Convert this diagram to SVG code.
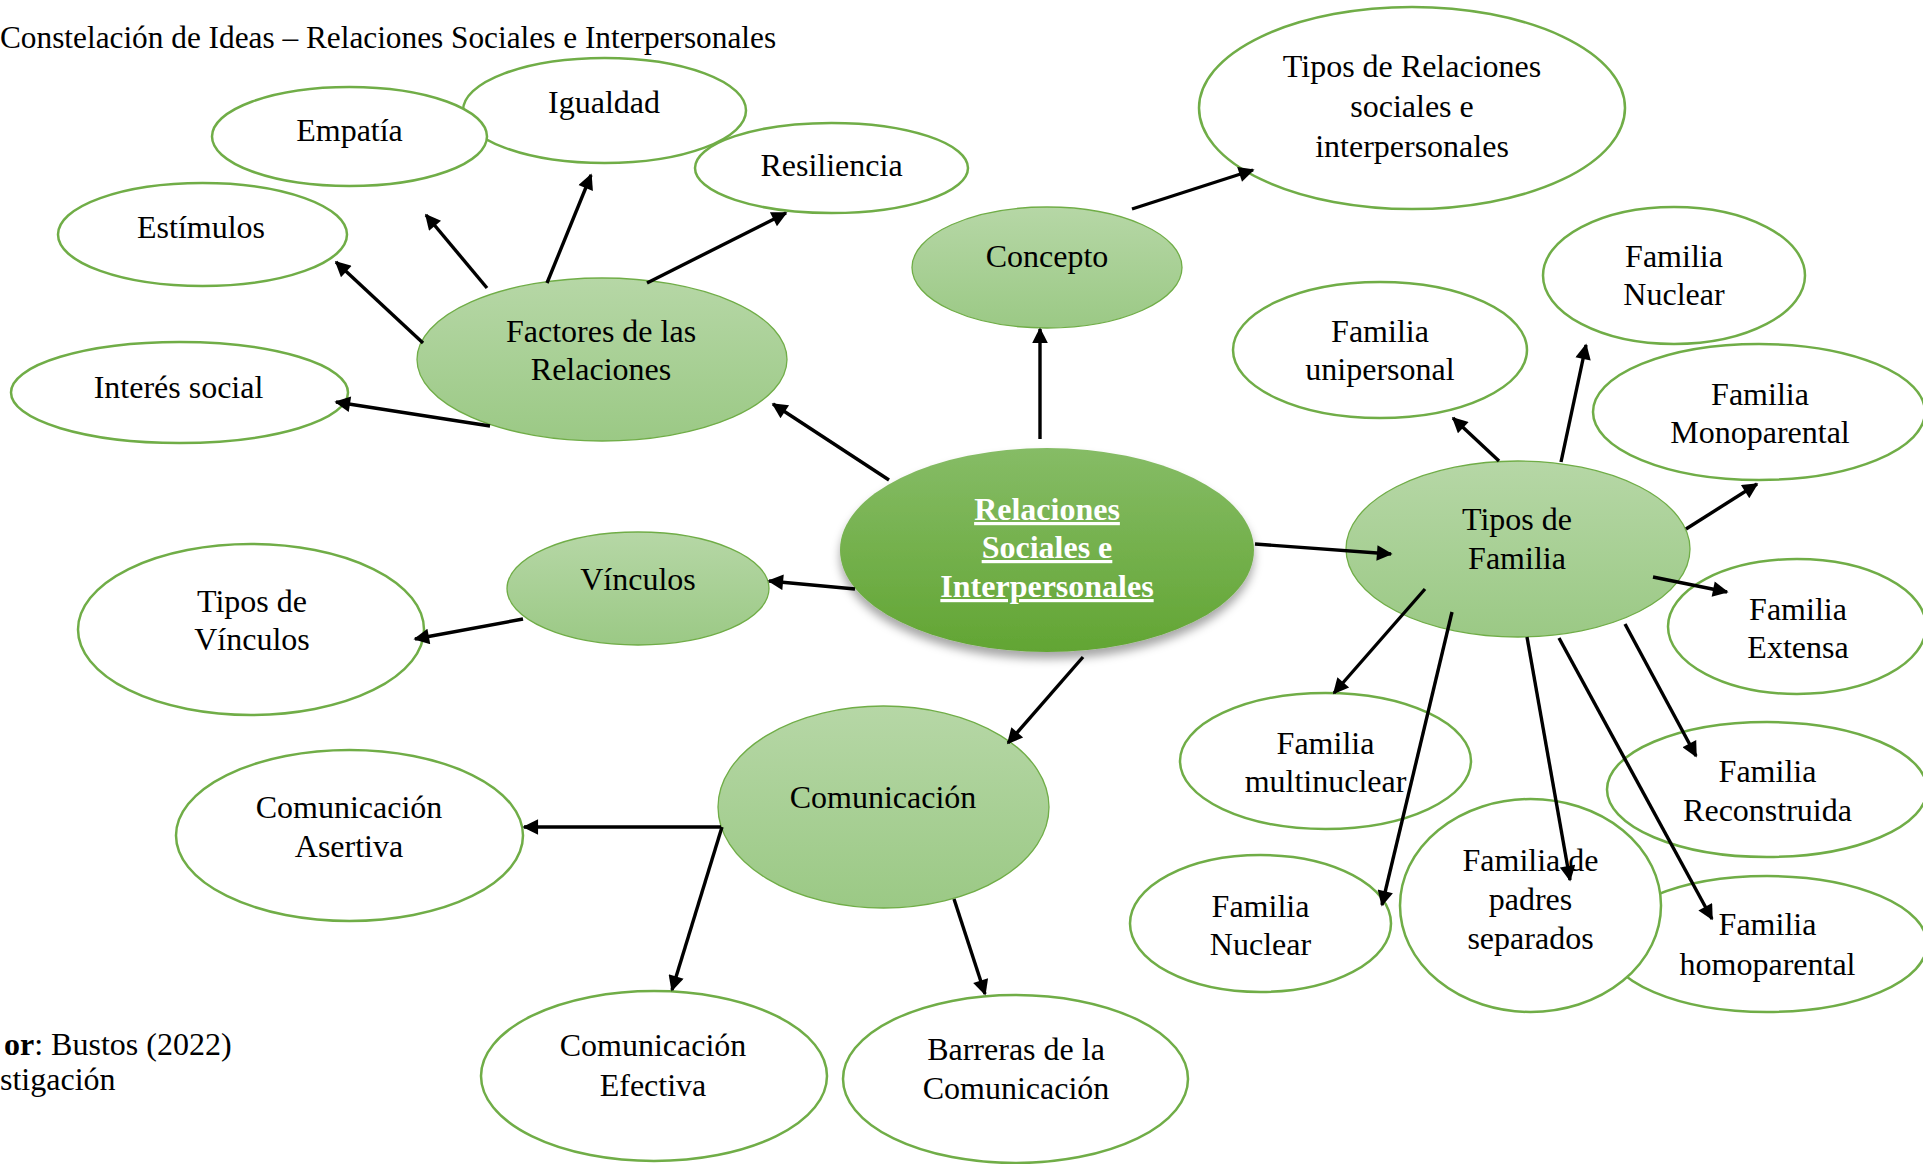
<svg xmlns="http://www.w3.org/2000/svg" width="1923" height="1164" viewBox="0 0 1923 1164">
<defs>
<linearGradient id="gLight" x1="0" y1="0" x2="0" y2="1">
<stop offset="0" stop-color="#b6d7a6"/>
<stop offset="1" stop-color="#9bc985"/>
</linearGradient>
<linearGradient id="gMain" x1="0" y1="0" x2="0" y2="1">
<stop offset="0" stop-color="#86bc66"/>
<stop offset="1" stop-color="#62a533"/>
</linearGradient>
<filter id="shadow" x="-20%" y="-20%" width="140%" height="150%">
<feDropShadow dx="0" dy="7" stdDeviation="5" flood-color="#000" flood-opacity="0.35"/>
</filter>
<marker id="arr" viewBox="0 0 10 10" refX="9" refY="5" markerWidth="5.6" markerHeight="4.6" orient="auto" markerUnits="strokeWidth">
<path d="M0,0 L10,5 L0,10 Z" fill="#000"/>
</marker>
</defs>
<style>
text{font-family:"Liberation Serif","Times New Roman",serif;font-size:32px;fill:#000;}
.c{text-anchor:middle;}
.w{fill:#fff;stroke:#70ad47;stroke-width:2.5;}
.l{fill:url(#gLight);stroke:#70ad47;stroke-width:1.3;}
.m{fill:url(#gMain);stroke:none;}
.mt{fill:#fff;font-weight:bold;text-decoration:underline;}
#connectors line{stroke:#000;stroke-width:3.4;marker-end:url(#arr);}
</style>
<rect x="0" y="0" width="1923" height="1164" fill="#fff"/>
<text x="0" y="48" style="font-size:31.3px">Constelación de Ideas – Relaciones Sociales e Interpersonales</text>
<g id="n-igualdad"><ellipse class="w" cx="604.5" cy="110.5" rx="141.5" ry="52.5"/><text class="c" x="604" y="113">Igualdad</text></g>
<g id="n-empatia"><ellipse class="w" cx="349.5" cy="136.5" rx="137.5" ry="49.5"/><text class="c" x="349.5" y="140.5">Empatía</text></g>
<g id="n-resiliencia"><ellipse class="w" cx="831.5" cy="168" rx="136.5" ry="45"/><text class="c" x="831.5" y="176">Resiliencia</text></g>
<g id="n-estimulos"><ellipse class="w" cx="202.5" cy="234.5" rx="144.5" ry="51.5"/><text class="c" x="201" y="238">Estímulos</text></g>
<g id="n-interes"><ellipse class="w" cx="179.5" cy="392.5" rx="168.5" ry="50.5"/><text class="c" x="178.5" y="398">Interés social</text></g>
<g id="n-factores"><ellipse class="l" cx="602" cy="359.5" rx="185" ry="81.5"/><text class="c" x="601" y="342">Factores de las</text><text class="c" x="601" y="380">Relaciones</text></g>
<g id="n-concepto"><ellipse class="l" cx="1047" cy="267.5" rx="135" ry="60.5"/><text class="c" x="1047" y="267">Concepto</text></g>
<g id="n-tiposrel"><ellipse class="w" cx="1412" cy="108" rx="213" ry="101"/><text class="c" x="1412" y="77">Tipos de Relaciones</text><text class="c" x="1412" y="117">sociales e</text><text class="c" x="1412" y="157">interpersonales</text></g>
<g id="n-unipersonal"><ellipse class="w" cx="1380" cy="350" rx="147" ry="68"/><text class="c" x="1380" y="342">Familia</text><text class="c" x="1380" y="380">unipersonal</text></g>
<g id="n-nuclear1"><ellipse class="w" cx="1674" cy="275.5" rx="131" ry="68.5"/><text class="c" x="1674" y="267">Familia</text><text class="c" x="1674" y="305">Nuclear</text></g>
<g id="n-monoparental"><ellipse class="w" cx="1759" cy="412" rx="166" ry="68"/><text class="c" x="1760" y="405">Familia</text><text class="c" x="1760" y="443">Monoparental</text></g>
<g id="n-central"><ellipse class="m" cx="1047" cy="550" rx="207" ry="102" filter="url(#shadow)"/><text class="c mt" x="1047" y="520">Relaciones</text><text class="c mt" x="1047" y="558">Sociales e</text><text class="c mt" x="1047" y="597">Interpersonales</text></g>
<g id="n-tiposfam"><ellipse class="l" cx="1518" cy="549" rx="172" ry="88"/><text class="c" x="1517" y="530">Tipos de</text><text class="c" x="1517" y="569">Familia</text></g>
<g id="n-extensa"><ellipse class="w" cx="1797" cy="626.5" rx="129" ry="67.5"/><text class="c" x="1798" y="620">Familia</text><text class="c" x="1798" y="658">Extensa</text></g>
<g id="n-vinculos"><ellipse class="l" cx="638" cy="588.5" rx="131" ry="56.5"/><text class="c" x="638" y="590">Vínculos</text></g>
<g id="n-tiposvin"><ellipse class="w" cx="251" cy="629.5" rx="173" ry="85.5"/><text class="c" x="252" y="612">Tipos de</text><text class="c" x="252" y="650">Vínculos</text></g>
<g id="n-comunicacion"><ellipse class="l" cx="883.5" cy="807" rx="165.5" ry="101"/><text class="c" x="883" y="808">Comunicación</text></g>
<g id="n-asertiva"><ellipse class="w" cx="349.5" cy="835.5" rx="173.5" ry="85.5"/><text class="c" x="349" y="818">Comunicación</text><text class="c" x="349" y="857">Asertiva</text></g>
<g id="n-multinuclear"><ellipse class="w" cx="1325.5" cy="761" rx="145.5" ry="68"/><text class="c" x="1325.5" y="754">Familia</text><text class="c" x="1325.5" y="792">multinuclear</text></g>
<g id="n-nuclear2"><ellipse class="w" cx="1260.5" cy="923.5" rx="130.5" ry="68.5"/><text class="c" x="1260.5" y="917">Familia</text><text class="c" x="1260.5" y="955">Nuclear</text></g>
<g id="n-reconstruida"><ellipse class="w" cx="1767" cy="789.5" rx="160" ry="67.5"/><text class="c" x="1767.5" y="782">Familia</text><text class="c" x="1767.5" y="821">Reconstruida</text></g>
<g id="n-homoparental"><ellipse class="w" cx="1767" cy="944" rx="160" ry="68"/><text class="c" x="1767.5" y="935">Familia</text><text class="c" x="1767.5" y="975">homoparental</text></g>
<g id="n-separados"><ellipse class="w" cx="1530.5" cy="905.5" rx="130.5" ry="106.5"/><text class="c" x="1530.5" y="871">Familia de</text><text class="c" x="1530.5" y="910">padres</text><text class="c" x="1530.5" y="949">separados</text></g>
<g id="n-efectiva"><ellipse class="w" cx="654" cy="1076" rx="173" ry="85"/><text class="c" x="653" y="1056">Comunicación</text><text class="c" x="653" y="1096">Efectiva</text></g>
<g id="n-barreras"><ellipse class="w" cx="1015.5" cy="1079" rx="172.5" ry="84"/><text class="c" x="1016" y="1060">Barreras de la</text><text class="c" x="1016" y="1099">Comunicación</text></g>
<g id="connectors">
<line x1="490" y1="426" x2="336" y2="402"/>
<line x1="423" y1="343" x2="336" y2="262"/>
<line x1="487" y1="288" x2="426" y2="215"/>
<line x1="547" y1="283" x2="591" y2="175"/>
<line x1="647" y1="283" x2="786" y2="213"/>
<line x1="889" y1="480" x2="773" y2="404"/>
<line x1="1040" y1="439" x2="1040" y2="329"/>
<line x1="1132" y1="209" x2="1253" y2="170"/>
<line x1="1255" y1="544" x2="1391" y2="554"/>
<line x1="1499" y1="461" x2="1453" y2="418"/>
<line x1="1561" y1="462" x2="1586" y2="345"/>
<line x1="1686" y1="529" x2="1757" y2="484"/>
<line x1="1653" y1="577" x2="1727" y2="592"/>
<line x1="1425" y1="589" x2="1334" y2="693"/>
<line x1="1452" y1="612" x2="1382" y2="905"/>
<line x1="1527" y1="637" x2="1570" y2="880"/>
<line x1="1625" y1="624" x2="1696" y2="756"/>
<line x1="1559" y1="638" x2="1712" y2="919"/>
<line x1="855" y1="589" x2="769" y2="581"/>
<line x1="523" y1="619" x2="415" y2="639"/>
<line x1="1083" y1="657" x2="1008" y2="743"/>
<line x1="721" y1="827" x2="524" y2="827"/>
<line x1="722" y1="827" x2="672" y2="990"/>
<line x1="954" y1="899" x2="985" y2="994"/>
</g>
<text x="4" y="1055"><tspan font-weight="bold">or</tspan>: Bustos (2022)</text>
<text x="0" y="1090">stigación</text>
</svg>
